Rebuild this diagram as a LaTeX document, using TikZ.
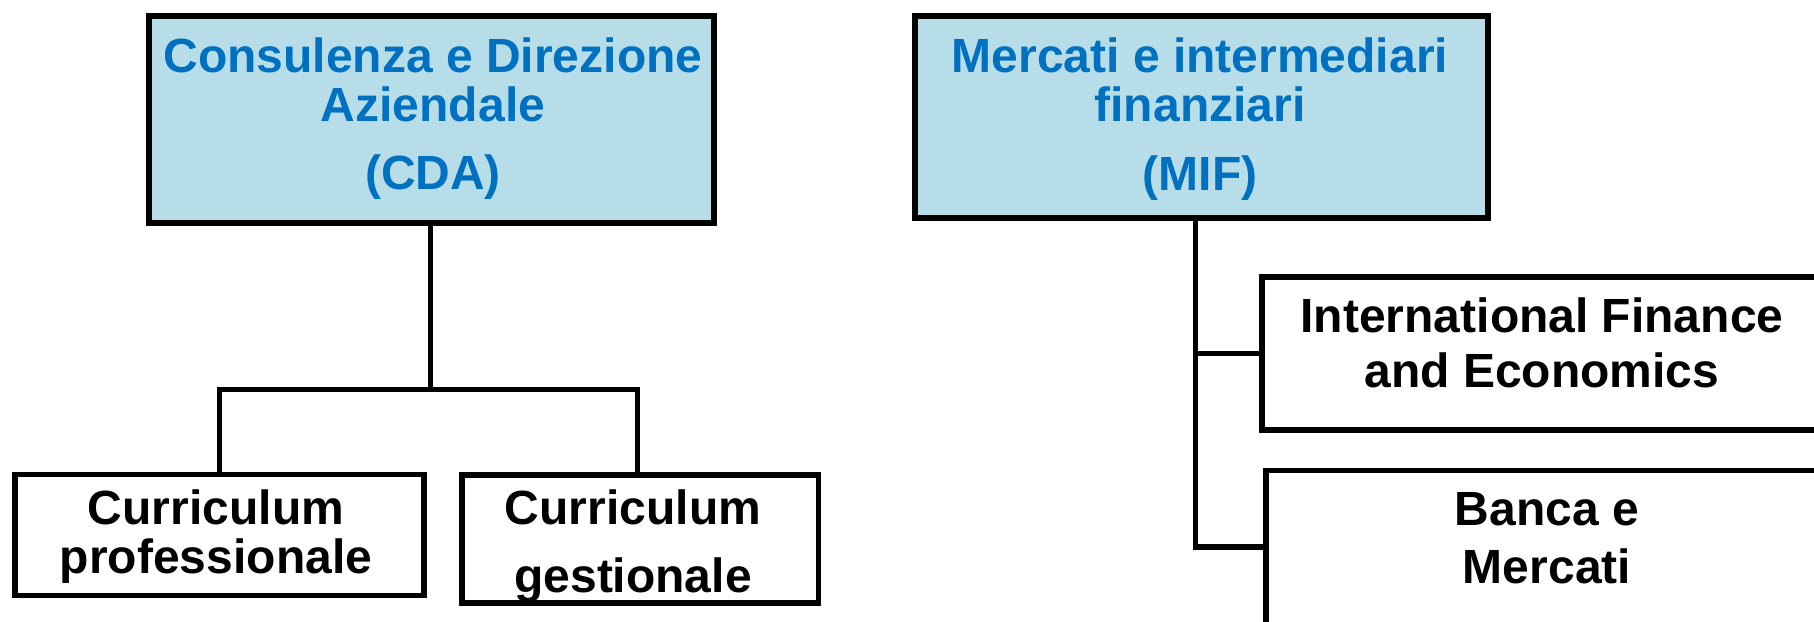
\documentclass[tikz,border=0pt]{standalone}
\usepackage{fontspec}
\setmainfont{Liberation Sans}
\definecolor{boxfill}{HTML}{B7DEE8}
\definecolor{titleblue}{HTML}{0070C0}
\tikzset{
  box/.style={draw=black, line width=5.5pt, rectangle, inner sep=0pt},
  topbox/.style={box, fill=boxfill},
  conn/.style={draw=black, line width=5pt},
  txt/.style={anchor=base, inner sep=0pt, font=\fontsize{48}{50}\selectfont\bfseries},
  ttl/.style={txt, text=titleblue},
  lbl/.style={txt, text=black}
}
\begin{document}
\begin{tikzpicture}[x=1pt,y=1pt]
\useasboundingbox (0,0) rectangle (1814,621);
\clip (0,0) rectangle (1814,621);
% boxes
\node[topbox, minimum width=565pt, minimum height=207pt] (cda) at (431.5,501.5) {};
\node[topbox, minimum width=573pt, minimum height=202pt] (mif) at (1201.5,504) {};
\node[box, minimum width=409pt, minimum height=120.5pt] (cpro) at (219.5,86) {};
\node[box, minimum width=356.5pt, minimum height=128pt] (cges) at (640,82) {};
\node[box, minimum width=558pt, minimum height=153pt] (ife) at (1541,267.5) {};
\node[box, minimum width=562pt, minimum height=179pt] (banca) at (1547,61) {};
% connectors
\coordinate (cdaj) at (430,231);
\draw[conn] ([xshift=-1.5pt]cda.south) -- (cdaj);
\draw[conn] (cpro.north) |- (cdaj) -| ([xshift=-2.5pt]cges.north);
\coordinate (mt) at ([xshift=-6.5pt]mif.south);
\draw[conn] (mt) |- ([yshift=13pt]banca.west);
\draw[conn] (mt |- ife.west) -- (ife.west);
% texts
\node[ttl] (cda1) at (433,548) {Consulenza e Direzione};
\node[ttl] (cda2) at (433,499) {Aziendale};
\node[ttl] (cda3) at (433,431) {(CDA)};
\node[ttl] (mif1) at (1200,548) {Mercati e intermediari};
\node[ttl] (mif2) at (1200,499.5) {finanziari};
\node[ttl] (mif3) at (1200,430) {(MIF)};
\node[lbl] (cpro1) at (216,96) {Curriculum};
\node[lbl] (cpro2) at (216,48) {professionale};
\node[lbl] (cges1) at (633,96) {Curriculum};
\node[lbl] (cges2) at (633,29) {gestionale};
\node[lbl] (ife1) at (1542,288) {International Finance};
\node[lbl] (ife2) at (1542,233) {and Economics};
\node[lbl] (banca1) at (1547,95) {Banca e};
\node[lbl] (banca2) at (1547,38) {Mercati};
\end{tikzpicture}
\end{document}
